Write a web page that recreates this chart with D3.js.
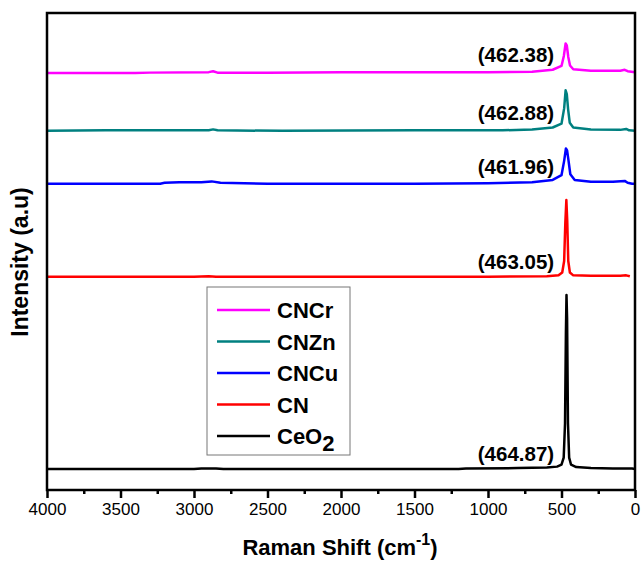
<!DOCTYPE html>
<meta charset="utf-8">
<head>
    <style>
        body { margin: 0; background: #fff; }
        text { font-family: Arial, "Liberation Sans", sans-serif; }
    </style>
    <script src="https://d3js.org/d3.v7.min.js"></script>
</head>
<div id="my_dataviz"></div>

<script>

// spectra: [Raman shift, intensity (offset, a.u.)]
var ceo2 = [[4000,44],[3500,44],[3000,44],[2950,45],[2850,45],[2800,44],[2000,44],[1500,44],[1200,44],[1150,45],[800,46],[600,47],[530,49],[500,53],[485,68],[476,140],[470,330],[466,409],[462,360],[456,140],[448,68],[435,53],[400,48],[300,46],[150,45],[20,45],[0,44]];
var cn = [[4000,447],[3000,447],[2900,448],[2850,447],[2000,447],[1000,447],[600,448],[520,450],[495,456],[482,480],[474,560],[467,608],[461,565],[454,480],[443,456],[420,450],[300,449],[100,449],[60,450],[35,448]];
var cncu = [[4000,642],[3230,642],[3200,644],[3100,645],[2950,645],[2880,647],[2820,644],[2500,642],[1500,642],[1000,643],[700,645],[560,650],[500,660],[482,690],[470,716],[462,712],[452,690],[440,662],[410,650],[300,646],[150,646],[70,648],[50,644],[20,642],[0,642]];
var cnzn = [[4000,753],[3600,754],[3200,754],[2900,754],[2870,756],[2840,754],[2400,753],[1500,754],[900,754],[700,756],[560,760],[500,768],[482,800],[472,838],[464,830],[455,798],[444,770],[420,760],[300,756],[100,755],[60,757],[40,754],[0,753]];
var cncr = [[4000,874],[3400,874],[3300,875],[2900,876],[2870,878],[2840,875],[2500,875],[2000,876],[1500,876],[1000,876],[700,877],[560,881],[500,889],[484,910],[472,936],[464,932],[454,908],[442,890],[420,882],[300,879],[100,879],[70,881],[50,878],[0,876]];

var seriesNames = ["CNCr", "CNZn", "CNCu", "CN", "CeO2"];
var seriesColors = ["#ff00ff", "#008080", "#0000ff", "#ff0000", "#000000"];
var seriesData = [cncr, cnzn, cncu, cn, ceo2];

// peak positions and where the label sits (intensity of label baseline)
var peakLabels = ["(462.38)", "(462.88)", "(461.96)", "(463.05)", "(464.87)"];
var labelY = [897, 776, 662, 463, 61];

var xTicks = [4000, 3500, 3000, 2500, 2000, 1500, 1000, 500, 0];

var margin = {top: 13, right: 6, bottom: 72, left: 47},
    width = 641 - margin.left - margin.right,
    height = 562 - margin.top - margin.bottom;

var svg = d3.select("#my_dataviz")
  .append("svg")
    .attr("width", 641)
    .attr("height", 562)
  .append("g")
    .attr("transform", "translate(" + margin.left + "," + margin.top + ")");

var x = d3.scaleLinear().domain([4000, 0]).range([0, width]);
var y = d3.scaleLinear().domain([0, 1000]).range([height, 0]);

// lines
var line = d3.line()
    .x(function(d) { return x(d[0]); })
    .y(function(d) { return y(d[1]); });

svg.selectAll(".spec")
  .data(seriesData)
  .enter().append("path")
    .attr("class", "spec")
    .attr("fill", "none")
    .attr("stroke", function(d, i) { return seriesColors[i]; })
    .attr("stroke-width", 2.5)
    .attr("stroke-linejoin", "round")
    .attr("d", line);

// peak labels
svg.selectAll(".peak")
  .data(peakLabels)
  .enter().append("text")
    .attr("class", "peak")
    .attr("x", x(550))
    .attr("y", function(d, i) { return y(labelY[i]); })
    .attr("text-anchor", "end")
    .style("font-size", "20.5px")
    .style("font-weight", "bold")
    .text(function(d) { return d; });

// frame
svg.append("rect")
    .attr("x", 0).attr("y", 0)
    .attr("width", width).attr("height", height)
    .attr("fill", "none")
    .attr("stroke", "#000")
    .attr("stroke-width", 2.5);

// x axis
var xAxis = svg.append("g")
    .attr("transform", "translate(0," + height + ")")
    .call(d3.axisBottom(x).tickValues(xTicks).tickSize(8).tickPadding(5).tickFormat(d3.format("d")));
xAxis.select(".domain").remove();
xAxis.selectAll("line").attr("stroke-width", 2.5);
xAxis.selectAll("text").style("font-size", "17px").style("font-family", "Arial, 'Liberation Sans', sans-serif");

var minor = svg.append("g")
    .attr("transform", "translate(0," + height + ")")
    .call(d3.axisBottom(x).tickValues([3750, 3250, 2750, 2250, 1750, 1250, 750, 250]).tickSize(4).tickFormat(""));
minor.select(".domain").remove();
minor.selectAll("line").attr("stroke-width", 2.5);

// axis titles
var xt = svg.append("text")
    .attr("x", width / 2 - 1)
    .attr("y", height + 65)
    .attr("text-anchor", "middle")
    .style("font-size", "22px")
    .style("font-weight", "bold");
xt.append("tspan").text("Raman Shift (cm");
xt.append("tspan").attr("dy", -10).style("font-size", "16px").text("-1");
xt.append("tspan").attr("dy", 10).text(")");

svg.append("text")
    .attr("transform", "rotate(-90)")
    .attr("x", -(262 - margin.top))
    .attr("y", -19)
    .attr("text-anchor", "middle")
    .style("font-size", "23px")
    .style("font-weight", "bold")
    .text("Intensity (a.u)");

// legend
var legend = svg.append("g").attr("transform", "translate(" + (207 - margin.left) + "," + (287 - margin.top) + ")");
legend.append("rect")
    .attr("width", 143).attr("height", 168)
    .attr("fill", "#fff")
    .attr("stroke", "#777")
    .attr("stroke-width", 1);

var rows = legend.selectAll(".lg")
  .data(seriesNames)
  .enter().append("g")
    .attr("class", "lg")
    .attr("transform", function(d, i) { return "translate(0," + (23 + i * 31.5) + ")"; });

rows.append("line")
    .attr("x1", 10).attr("x2", 63)
    .attr("stroke", function(d, i) { return seriesColors[i]; })
    .attr("stroke-width", 2.5);

rows.append("text")
    .attr("x", 70)
    .attr("y", 8)
    .style("font-size", "22px")
    .style("font-weight", "bold")
    .each(function(d) {
        var t = d3.select(this);
        if (d === "CeO2") {
            t.append("tspan").text("CeO");
            t.append("tspan").attr("dy", 7).text("2");
        } else {
            t.text(d);
        }
    });

</script>
